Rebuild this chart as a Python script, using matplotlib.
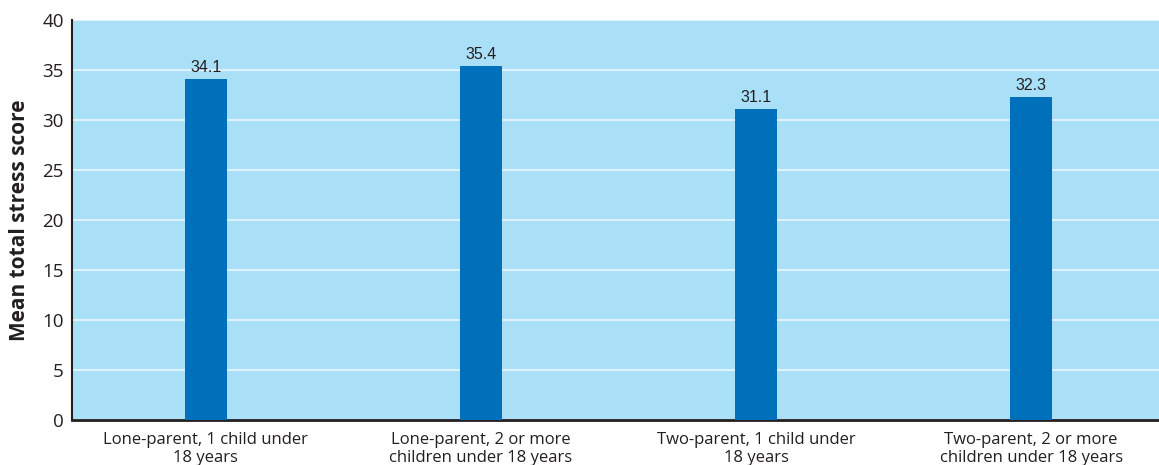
import numpy as np
import matplotlib
matplotlib.use("Agg")
import matplotlib.pyplot as plt

# ---------- data ----------
categories = [
    "Lone-parent, 1 child under\n18 years",
    "Lone-parent, 2 or more\nchildren under 18 years",
    "Two-parent, 1 child under\n18 years",
    "Two-parent, 2 or more\nchildren under 18 years",
]
scores = [34.1, 35.4, 31.1, 32.3]
yticks = [0, 5, 10, 15, 20, 25, 30, 35, 40]

BG = "#aadff8"
BAR = "#0070bb"
GRID = "#dcf1fb"
INK = "#231f20"

plt.rcParams["font.family"] = ["Open Sans", "DejaVu Sans"]

fig = plt.figure(figsize=(11.59, 4.65), dpi=100)
ax = fig.add_axes([0.0621, 0.0968, 0.9379, 0.8602])
ax.set_facecolor(BG)

x = np.arange(len(categories))
ax.bar(x, scores, width=0.153, color=BAR, zorder=3)
for xi, v in zip(x, scores):
    ax.text(xi, v + 0.4, f"{v:.1f}", ha="center", va="bottom", fontsize=11.5,
            color=INK, family=["Liberation Sans", "DejaVu Sans"], zorder=4)

ax.set_xlim(-0.487, 3.465)
ax.set_ylim(0, 40)
ax.set_yticks(yticks)
ax.yaxis.grid(True, color=GRID, lw=1.5, zorder=1)
ax.set_axisbelow(True)

ax.set_xticks(x)
ax.set_xticklabels(categories, fontsize=12, color=INK, linespacing=1.1)
ax.tick_params(axis="x", length=0, pad=9)
ax.tick_params(axis="y", length=0, pad=6, labelsize=13.5, labelcolor=INK)

ax.set_ylabel("Mean total stress score", fontsize=15, fontweight="bold",
              color=INK, labelpad=9)

for s in ("top", "right"):
    ax.spines[s].set_visible(False)
ax.spines["left"].set_color(INK)
ax.spines["left"].set_linewidth(1.5)
ax.spines["bottom"].set_color(INK)
ax.spines["bottom"].set_linewidth(2)

fig.savefig("out.png", dpi=100, facecolor="white")
